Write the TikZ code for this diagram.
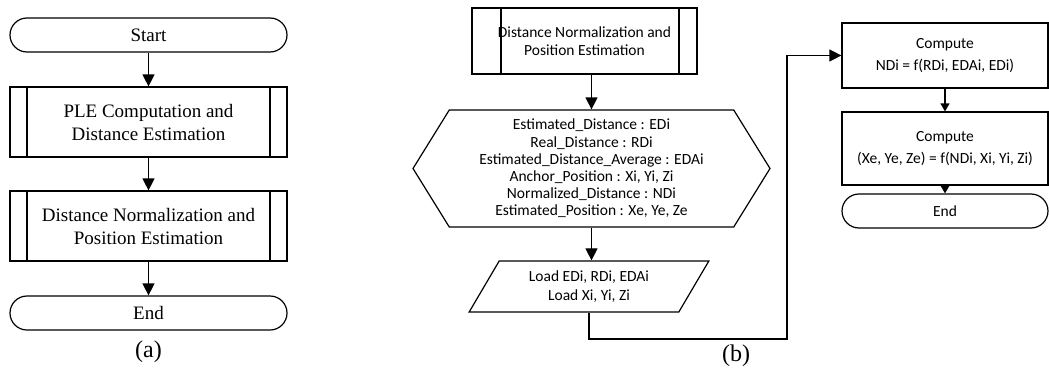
\documentclass[tikz,border=0pt]{standalone}
\usepackage{fontspec}
\setmainfont{Liberation Serif}
\newfontfamily\calibfont{Carlito}
\usetikzlibrary{shapes.geometric, shapes.symbols, arrows.meta, calc}

\begin{document}
\begin{tikzpicture}[x=1pt, y=-1pt, line width=1.2pt,
		afont/.style = {font=\fontsize{19}{23}\selectfont},
		bfont/.style = {font=\calibfont\fontsize{15.5}{18.5}\selectfont},
		capfont/.style = {font=\fontsize{24}{28}\selectfont},
		term/.style = {draw, rectangle, rounded corners=17pt, minimum height=34pt},
		subproc/.style 2 args = {draw, rectangle, align=center,
			path picture={
				\draw ($(path picture bounding box.north west)+(#1,0)$) -- ($(path picture bounding box.south west)+(#1,0)$);
				\draw ($(path picture bounding box.north east)+(-#2,0)$) -- ($(path picture bounding box.south east)+(-#2,0)$);
		}},
		proc/.style = {draw, rectangle, align=center, minimum width=206pt, font=\calibfont\fontsize{15.5}{22}\selectfont},
		hexa/.style = {draw, signal, signal to=west and east, signal pointer angle=116.4,
			minimum width=357pt, minimum height=117pt, inner sep=0pt, align=center},
		io/.style = {draw, trapezium, trapezium left angle=60.8, trapezium right angle=119.2,
			trapezium stretches, minimum width=240pt, minimum height=51pt, align=center, bfont},
		arr/.style = {-{Triangle[length=12pt,width=12pt]}},
		arrs/.style = {-{Triangle[length=8pt,width=9pt]}}
	]
	\useasboundingbox (0,0) rectangle (1049,372);
	
	% (a)
	\node at (148.5,35) (start) [term, minimum width=277pt, afont] {Start};
	\node at (148.5,122) (ple) [subproc={17}{17}, minimum width=277pt, minimum height=70pt, afont] {PLE Computation and\\Distance Estimation};
	\node at (148.5,226) (dnorm) [subproc={17}{17}, minimum width=277pt, minimum height=70pt, afont] {Distance Normalization and\\Position Estimation};
	\node at (148.5,313) (enda) [term, minimum width=277pt, afont] {End};
	\node at (148.5,352) (capa) [capfont] {(a)};
	
	% (b)
	\node at (584.5,41) (dnpe) [subproc={29}{18}, minimum width=225pt, minimum height=66pt, bfont] {Distance Normalization and\\Position Estimation};
	\node at (591.5,168.5) (prep) [hexa, bfont, font=\calibfont\fontsize{15.5}{17.2}\selectfont] {Estimated\_Distance : EDi\\Real\_Distance : RDi\\Estimated\_Distance\_Average : EDAi\\Anchor\_Position : Xi, Yi, Zi\\Normalized\_Distance : NDi\\Estimated\_Position : Xe, Ye, Ze};
	\node at (589,286.5) (load) [io] {Load EDi, RDi, EDAi\\Load Xi, Yi, Zi};
	\coordinate (bend) at (787,339);
	\node at (945,55.5) (comp1) [proc, minimum height=65pt] {Compute\\NDi = f(RDi, EDAi, EDi)};
	\node at (945,148.5) (comp2) [proc, minimum height=73pt] {Compute\\(Xe, Ye, Ze) = f(NDi, Xi, Yi, Zi)};
	\node at (945,211) (endb) [term, minimum width=206pt, bfont] {End};
	\node at (736,356) (capb) [capfont] {(b)};
	
	\path [arr]
	(start) edge (ple)
	(ple) edge (dnorm)
	(dnorm) edge (enda)
	
	(prep.north |- dnpe.south) edge (prep.north)
	(prep.south) edge (prep.south |- load.north);
	
	\path [arrs]
	(comp1) edge (comp2)
	(comp2) edge (endb);
	
	\draw [arr] (load.south) |- (bend) |- (comp1.west);
\end{tikzpicture}
\end{document}
